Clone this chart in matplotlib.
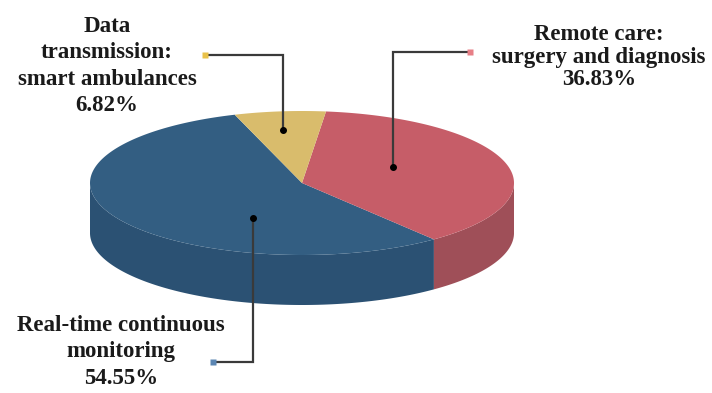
import numpy as np
import matplotlib.pyplot as plt
from matplotlib.patches import Polygon

# slice data
labels = ['Real-time continuous\nmonitoring\n54.55%',
          'Remote care:\nsurgery and diagnosis\n36.83%',
          'Data\ntransmission:\nsmart ambulances\n6.82%']
values = [54.55, 36.83, 6.82]
top_colors = ['#335e82', '#c65d68', '#d9bc6c']
side_colors = ['#2b5173', '#9f4f58', '#b89a52']
marker_colors = ['#5b86b3', '#e77f86', '#e9c24a']

# pie geometry in pixel units (y grows downwards)
cx, cy = 302, 183
ra, rb = 212, 72
depth = 50
start = 108.5

fig = plt.figure(figsize=(7.12, 3.93), dpi=100)
ax = fig.add_axes([0, 0, 1, 1])
ax.set_xlim(0, 712)
ax.set_ylim(393, 0)
ax.axis('off')

fracs = np.array(values) / np.sum(values)
bounds = start + 360 * np.concatenate([[0], np.cumsum(fracs)])


def rim(t0, t1, dy=0):
    t = np.radians(np.linspace(t0, t1, 200))
    return np.column_stack([cx + ra * np.cos(t), cy - rb * np.sin(t) + dy])


# front walls: only the part of each slice facing the viewer (180..360 deg)
for i in range(len(values)):
    t0, t1 = bounds[i], bounds[i + 1]
    for k in (-1, 0, 1):
        lo = max(t0, 180 + 360 * k)
        hi = min(t1, 360 + 360 * k)
        if hi > lo:
            top = rim(lo, hi)
            bot = rim(hi, lo, depth)
            ax.add_patch(Polygon(np.vstack([top, bot]), closed=True,
                                 facecolor=side_colors[i], edgecolor='none'))

# top faces
for i in range(len(values)):
    pts = np.vstack([[cx, cy], rim(bounds[i], bounds[i + 1])])
    ax.add_patch(Polygon(pts, closed=True, facecolor=top_colors[i],
                         edgecolor='none'))

# leader lines: dot inside the slice, elbow, coloured square at the label
leaders = [
    [(253, 218), (253, 362), (213, 362)],
    [(393, 167), (393, 52), (470, 52)],
    [(283, 130), (283, 55), (205, 55)],
]
for i, path in enumerate(leaders):
    xs, ys = zip(*path)
    ax.plot(xs, ys, color='#3a3a3a', lw=1.6, solid_joinstyle='miter')
    ax.plot(xs[0], ys[0], 'o', color='black', ms=4)
    ax.plot(xs[-1], ys[-1], 's', color=marker_colors[i], ms=5, mec='none')

text_pos = [(121, 352), (599, 57), (107, 66)]
spacing = [1.32, 1.12, 1.32]
for lab, (tx, ty), ls in zip(labels, text_pos, spacing):
    ax.text(tx, ty, lab, ha='center', va='center', fontsize=16.5,
            fontweight='bold', family='Liberation Serif', color='#1a1a1a',
            linespacing=ls)

fig.savefig('out.png', dpi=100)
